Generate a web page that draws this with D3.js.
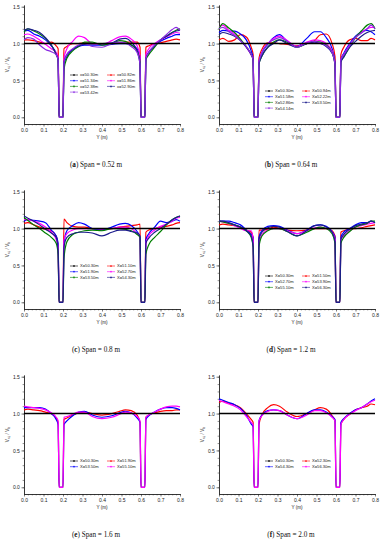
<!DOCTYPE html>
<html>
<head>
<meta charset="utf-8">
<script src="https://cdn.jsdelivr.net/npm/d3@7"></script>
<style>
  body { margin: 0; background: #fff; }
  svg { display: block; }
</style>
</head>
<body>
<div id="chart"></div>
<script>
// Transverse positions Y (m) where the velocity ratio was read
const yPos = [0, 0.02, 0.05, 0.08, 0.11, 0.14, 0.165, 0.175, 0.18, 0.20, 0.205, 0.22, 0.25, 0.28, 0.31, 0.35, 0.40,
  0.45, 0.49, 0.52, 0.55, 0.58, 0.595, 0.60, 0.62, 0.625, 0.64, 0.67, 0.70, 0.73, 0.76, 0.78, 0.80];

// reference section X = 50.30 m is flat at 1.0
const refYPos = [0, 0.8];
const refValues = [1, 1];

const xTicks = [0, 0.1, 0.2, 0.3, 0.4, 0.5, 0.6, 0.7, 0.8];
const yTicks = [0, 0.5, 1.0, 1.5];

const panelLetters = ["a", "b", "c", "d", "e", "f"];
const spanLabels = ["0.52", "0.64", "0.8", "1.2", "1.6", "2.0"];

// (a) Span = 0.52 m
const namesA = ["x=50.30m", "x=50.82m", "x=51.34m", "x=51.86m", "x=52.38m", "x=52.90m", "x=53.42m"];
const valuesA = [
  [1.05,1.05,1.04,1.02,1.0,1.02,0.97,0.93,0,0,0.93,0.96,1.0,1.0,1.01,1.0,1.0,1.0,1.01,1.02,1.02,1.02,0.95,0,0,0.95,0.97,1.0,1.01,1.03,1.05,1.06,1.05],
  [1.17,1.18,1.13,1.1,1.05,0.97,0.87,0.8,0,0,0.72,0.82,0.92,0.96,0.98,0.98,0.98,0.99,1.0,1.0,0.98,0.93,0.8,0,0,0.8,0.88,0.97,1.03,1.07,1.1,1.12,1.12],
  [1.12,1.13,1.1,1.05,0.99,0.93,0.88,0.82,0,0,0.8,0.93,1.03,1.1,1.08,1.0,0.99,1.04,1.09,1.1,1.06,0.97,0.82,0,0,0.85,0.93,1.0,1.05,1.09,1.13,1.15,1.14],
  [1.16,1.2,1.17,1.13,1.07,0.98,0.85,0.78,0,0,0.65,0.8,0.9,0.96,1.02,1.02,0.98,1.0,1.04,1.03,0.98,0.9,0.75,0,0,0.78,0.85,0.95,1.05,1.1,1.15,1.18,1.2],
  [1.18,1.2,1.18,1.15,1.08,0.98,0.85,0.78,0,0,0.75,0.85,0.92,0.97,0.99,1.0,1.0,1.01,1.06,1.07,1.02,0.9,0.72,0,0,0.8,0.88,0.97,1.05,1.1,1.15,1.17,1.18],
  [1.05,1.08,1.06,0.98,0.92,0.89,0.85,0.78,0,0,0.75,0.85,0.93,0.98,1.0,0.96,0.95,1.0,1.02,1.01,0.96,0.88,0.72,0,0,0.8,0.88,0.98,1.05,1.12,1.19,1.22,1.18]
];

// (b) Span = 0.64 m
const namesB = ["X=50.30m", "X=50.94m", "X=51.58m", "X=52.22m", "X=52.86m", "X=53.50m", "X=54.14m"];
const valuesB = [
  [1.05,1.07,1.03,1.05,1.12,1.09,0.95,0.85,0,0,0.8,0.92,1.01,1.01,1.0,0.99,0.97,1.0,1.04,1.12,1.13,1.0,0.82,0,0,0.85,0.95,1.05,1.07,1.04,1.04,1.07,1.05],
  [1.15,1.18,1.17,1.17,1.13,1.05,0.9,0.8,0,0,0.75,0.87,0.99,1.08,1.12,1.03,0.96,1.07,1.16,1.16,1.08,0.93,0.75,0,0,0.78,0.87,1.0,1.1,1.16,1.18,1.16,1.12],
  [1.22,1.25,1.18,1.13,1.05,0.95,0.85,0.8,0,0,0.75,0.88,1.0,1.07,1.1,1.04,0.96,1.02,1.05,1.04,1.0,0.9,0.72,0,0,0.78,0.85,0.98,1.08,1.15,1.2,1.22,1.22],
  [1.2,1.27,1.21,1.15,1.06,0.96,0.85,0.78,0,0,0.72,0.83,0.95,1.02,1.05,1.02,0.95,1.0,1.03,1.02,0.98,0.88,0.72,0,0,0.75,0.82,0.95,1.08,1.17,1.25,1.27,1.2],
  [1.12,1.15,1.13,1.1,1.04,0.95,0.85,0.78,0,0,0.72,0.83,0.95,1.0,1.05,1.0,0.95,1.0,1.02,1.0,0.96,0.87,0.72,0,0,0.75,0.82,0.95,1.03,1.1,1.15,1.17,1.18],
  [1.2,1.22,1.16,1.11,1.04,0.96,0.85,0.78,0,0,0.75,0.88,1.0,1.05,1.08,1.03,0.95,1.01,1.03,1.01,0.97,0.88,0.72,0,0,0.78,0.85,0.97,1.08,1.14,1.2,1.25,1.2]
];

// (c) Span = 0.8 m
const namesC = ["X=50.30m", "X=51.10m", "X=51.90m", "X=52.70m", "X=53.50m", "X=54.30m"];
const valuesC = [
  [1.07,1.08,1.05,1.02,0.99,0.97,0.9,0.75,0,0,1.13,1.08,1.03,1.02,1.02,1.0,0.99,1.0,1.02,1.03,1.04,1.05,1.06,0,0,0.95,0.98,1.0,1.02,1.03,1.05,1.07,1.08],
  [1.1,1.12,1.11,1.1,1.08,0.98,0.9,0.8,0,0,0.8,0.97,1.04,1.08,1.06,1.0,0.98,1.02,1.06,1.07,1.04,0.96,0.88,0,0,0.85,0.93,1.02,1.1,1.08,1.1,1.12,1.1],
  [1.12,1.12,1.1,1.07,1.02,0.95,0.85,0.75,0,0,0.85,0.93,0.98,1.0,1.0,1.0,1.0,1.0,1.02,1.02,1.0,0.93,0.88,0,0,0.8,0.9,0.98,1.03,1.06,1.1,1.14,1.15],
  [1.15,1.11,1.05,1.0,0.94,0.88,0.8,0.65,0,0,0.6,0.82,0.92,0.95,0.97,0.98,0.97,1.0,1.0,0.99,0.97,0.92,0.88,0,0,0.65,0.78,0.88,0.96,1.05,1.12,1.15,1.17],
  [1.17,1.14,1.1,1.05,0.99,0.94,0.88,0.7,0,0,0.75,0.88,0.93,0.95,0.95,0.94,0.9,0.95,0.98,0.98,0.96,0.94,0.9,0,0,0.8,0.87,0.95,1.0,1.06,1.12,1.15,1.17]
];

// (d) Span = 1.2 m
const namesD = ["X=50.30m", "X=51.50m", "X=52.70m", "X=53.90m", "X=55.10m", "X=56.30m"];
const valuesD = [
  [1.05,1.06,1.05,1.04,1.02,0.98,0.95,0.88,0,0,0.98,0.98,0.99,1.02,1.0,0.98,0.97,0.98,1.0,1.0,1.0,0.97,0.9,0,0,0.95,0.97,0.99,1.0,1.01,1.03,1.04,1.05],
  [1.1,1.1,1.1,1.08,1.05,0.98,0.92,0.88,0,0,0.88,0.97,1.03,1.04,1.03,0.98,0.93,0.98,1.04,1.05,1.03,0.96,0.88,0,0,0.88,0.95,1.0,1.05,1.08,1.08,1.1,1.08],
  [1.1,1.09,1.07,1.04,1.0,0.97,0.97,0.85,0,0,0.8,0.92,0.98,1.0,1.0,0.97,0.93,0.97,1.01,1.02,1.0,0.95,0.85,0,0,0.85,0.9,0.97,1.02,1.04,1.06,1.07,1.08],
  [1.1,1.09,1.07,1.05,1.02,0.97,0.88,0.75,0,0,0.75,0.9,0.97,1.0,1.0,0.96,0.9,0.95,1.0,1.02,1.0,0.93,0.8,0,0,0.8,0.88,0.96,1.02,1.05,1.07,1.1,1.1],
  [1.1,1.1,1.08,1.05,1.02,0.97,0.9,0.75,0,0,0.85,0.95,1.01,1.03,1.02,0.96,0.9,0.97,1.04,1.05,1.02,0.95,0.82,0,0,0.85,0.92,0.99,1.04,1.06,1.08,1.1,1.08]
];

// (e) Span = 1.6 m
const namesE = ["X=50.30m", "X=51.90m", "X=53.50m", "X=55.10m"];
const valuesE = [
  [1.05,1.06,1.05,1.04,1.02,1.0,0.94,0.88,0,0,0.92,0.94,0.98,1.01,1.02,1.0,0.98,1.0,1.03,1.05,1.04,0.98,0.88,0,0,0.95,0.98,1.01,1.03,1.04,1.04,1.05,1.05],
  [1.08,1.08,1.08,1.08,1.06,1.0,0.92,0.85,0,0,0.85,0.9,0.97,1.02,1.03,0.98,0.95,0.97,1.01,1.03,1.01,0.94,0.88,0,0,0.92,0.97,1.02,1.06,1.08,1.08,1.07,1.05],
  [1.1,1.09,1.08,1.07,1.05,1.01,0.95,0.9,0,0,0.95,0.96,0.99,1.02,1.02,0.96,0.93,0.95,0.99,1.02,1.01,0.96,0.9,0,0,0.95,0.98,1.02,1.06,1.09,1.1,1.1,1.09]
];

// (f) Span = 2.0 m
const namesF = ["X=50.30m", "X=52.30m", "X=54.30m", "X=56.30m"];
const valuesF = [
  [1.15,1.17,1.14,1.12,1.08,1.0,0.92,0.88,0,0,0.85,0.98,1.08,1.12,1.1,1.02,0.96,1.0,1.05,1.08,1.06,0.97,0.9,0,0,0.85,0.92,0.99,1.05,1.08,1.1,1.13,1.12],
  [1.2,1.18,1.15,1.12,1.07,0.98,0.86,0.82,0,0,0.9,0.98,1.04,1.05,1.04,0.98,0.93,1.0,1.05,1.05,1.02,0.96,0.92,0,0,0.88,0.93,1.0,1.05,1.08,1.13,1.17,1.2],
  [1.18,1.16,1.13,1.1,1.05,0.96,0.88,0.85,0,0,0.9,0.97,1.03,1.05,1.04,0.98,0.93,0.98,1.04,1.04,1.01,0.95,0.9,0,0,0.85,0.92,0.99,1.04,1.08,1.13,1.16,1.18]
];

// line colours, Origin-style, in legend order after the black reference
const seriesColors = ["#000000", "#ff0000", "#0000ff", "#ff00ff", "#008000", "#1c1c8c", "#8a2be2"];
const symbolTypes = [d3.symbolSquare, d3.symbolCircle, d3.symbolTriangle, d3.symbolTriangle, d3.symbolDiamond, d3.symbolSquare, d3.symbolStar];

class SpanPanel {
  constructor(_config, _names, _values) {
    this.config = {
      parent: _config.parent,
      left: _config.left,
      top: _config.top,
      letter: _config.letter,
      span: _config.span,
      legendTop: _config.legendTop,
      plot: { x0: 24, x1: 180, yTop: 5, yBottom: 124 }
    };
    this.names = _names;
    this.values = _values;
    this.initVis();
  }

  initVis() {
    const vis = this;
    const p = vis.config.plot;

    vis.g = vis.config.parent.append("g")
      .attr("transform", `translate(${vis.config.left},${vis.config.top})`);

    vis.x = d3.scaleLinear().domain([0, 0.8]).range([p.x0, p.x1]);
    vis.y = d3.scaleLinear().domain([-0.091, 1.523]).range([p.yBottom, p.yTop]);

    vis.line = d3.line()
      .x((d) => vis.x(d[0]))
      .y((d) => vis.y(d[1]))
      .curve(d3.curveMonotoneX);

    vis.updateVis();
  }

  updateVis() {
    const vis = this;
    const p = vis.config.plot;

    // minor ticks first, majors on top
    const xMinor = d3.range(0, 0.8001, 0.02);
    const yMinor = d3.range(0, 1.5001, 0.1);

    vis.g.append("g")
      .attr("transform", `translate(0,${p.yBottom})`)
      .call(d3.axisBottom(vis.x).tickValues(xMinor).tickFormat("").tickSize(1.4).tickSizeOuter(0));
    vis.g.append("g")
      .attr("transform", `translate(${p.x0},0)`)
      .call(d3.axisLeft(vis.y).tickValues(yMinor).tickFormat("").tickSize(1.4).tickSizeOuter(0));

    vis.xAxis = vis.g.append("g")
      .attr("transform", `translate(0,${p.yBottom})`)
      .call(d3.axisBottom(vis.x).tickValues(xTicks).tickFormat(d3.format(".1f")).tickSize(2.6).tickSizeOuter(0).tickPadding(1.5));
    vis.yAxis = vis.g.append("g")
      .attr("transform", `translate(${p.x0},0)`)
      .call(d3.axisLeft(vis.y).tickValues(yTicks).tickFormat(d3.format(".1f")).tickSize(2.6).tickSizeOuter(0).tickPadding(1.5));

    vis.g.selectAll(".domain").attr("stroke", "#222").attr("stroke-width", 0.7);
    vis.g.selectAll(".tick line").attr("stroke", "#222").attr("stroke-width", 0.5);
    vis.g.selectAll(".tick text")
      .attr("font-family", "Liberation Sans, Arial, sans-serif")
      .attr("font-size", 5)
      .attr("fill", "#222");

    // axis titles
    vis.g.append("text")
      .attr("x", (p.x0 + p.x1) / 2)
      .attr("y", 138.5)
      .attr("text-anchor", "middle")
      .attr("font-family", "Liberation Sans, Arial, sans-serif")
      .attr("font-size", 4.6)
      .attr("fill", "#222")
      .text("Y (m)");

    const yl = vis.g.append("text")
      .attr("transform", `translate(9,${(p.yTop + p.yBottom) / 2}) rotate(-90)`)
      .attr("text-anchor", "middle")
      .attr("font-family", "Liberation Sans, Arial, sans-serif")
      .attr("font-size", 4.6)
      .attr("fill", "#222");
    yl.append("tspan").text("V");
    yl.append("tspan").attr("font-size", 3.4).attr("dy", 1).text("x,i");
    yl.append("tspan").attr("dy", -1).text(" / V");
    yl.append("tspan").attr("font-size", 3.4).attr("dy", 1).text("b");

    // measured sections
    vis.values.forEach((vals, i) => {
      vis.g.append("path")
        .datum(yPos.map((yy, k) => [yy, vals[k]]))
        .attr("fill", "none")
        .attr("stroke", seriesColors[i + 1])
        .attr("stroke-width", 1.2)
        .attr("stroke-linejoin", "round")
        .attr("d", vis.line);
    });

    // reference section on top
    vis.g.append("path")
      .datum(refYPos.map((yy, k) => [yy, refValues[k]]))
      .attr("fill", "none")
      .attr("stroke", seriesColors[0])
      .attr("stroke-width", 1.5)
      .attr("d", vis.line);

    // legend, two columns read row by row
    const legend = vis.g.append("g");
    vis.names.forEach((name, i) => {
      const row = Math.floor(i / 2);
      const col = i % 2;
      const lx = col ? 107 : 70;
      const ly = vis.config.legendTop + row * 5.7;
      legend.append("line")
        .attr("x1", lx).attr("x2", lx + 8)
        .attr("y1", ly).attr("y2", ly)
        .attr("stroke", seriesColors[i])
        .attr("stroke-width", 0.6);
      legend.append("path")
        .attr("transform", `translate(${lx + 4},${ly})`)
        .attr("d", d3.symbol().type(symbolTypes[i]).size(2.2))
        .attr("fill", seriesColors[i]);
      legend.append("text")
        .attr("x", lx + 10)
        .attr("y", ly + 1.4)
        .attr("font-family", "Liberation Sans, Arial, sans-serif")
        .attr("font-size", 4.1)
        .attr("fill", "#222")
        .text(name);
    });

    // caption under the panel
    const cap = vis.g.append("text")
      .attr("x", 96)
      .attr("y", 167)
      .attr("text-anchor", "middle")
      .attr("font-family", "Liberation Serif, Times New Roman, serif")
      .attr("font-size", 7.2)
      .attr("fill", "#111");
    cap.append("tspan").text("(");
    cap.append("tspan").attr("font-weight", "bold").text(vis.config.letter);
    cap.append("tspan").text(`) Span = ${vis.config.span} m`);
  }
}

const svg = d3.select("#chart")
  .append("svg")
  .attr("width", 390)
  .attr("height", 550)
  .style("background", "#fff");

const panelNames = [namesA, namesB, namesC, namesD, namesE, namesF];
const panelValues = [valuesA, valuesB, valuesC, valuesD, valuesE, valuesF];
const legendTops = [75, 91, 81, 91, 91, 91];

panelNames.forEach((names, i) => {
  new SpanPanel({
    parent: svg,
    left: (i % 2) * 195,
    top: Math.floor(i / 2) * 185,
    letter: panelLetters[i],
    span: spanLabels[i],
    legendTop: legendTops[i]
  }, names, panelValues[i]);
});
</script>
</body>
</html>
